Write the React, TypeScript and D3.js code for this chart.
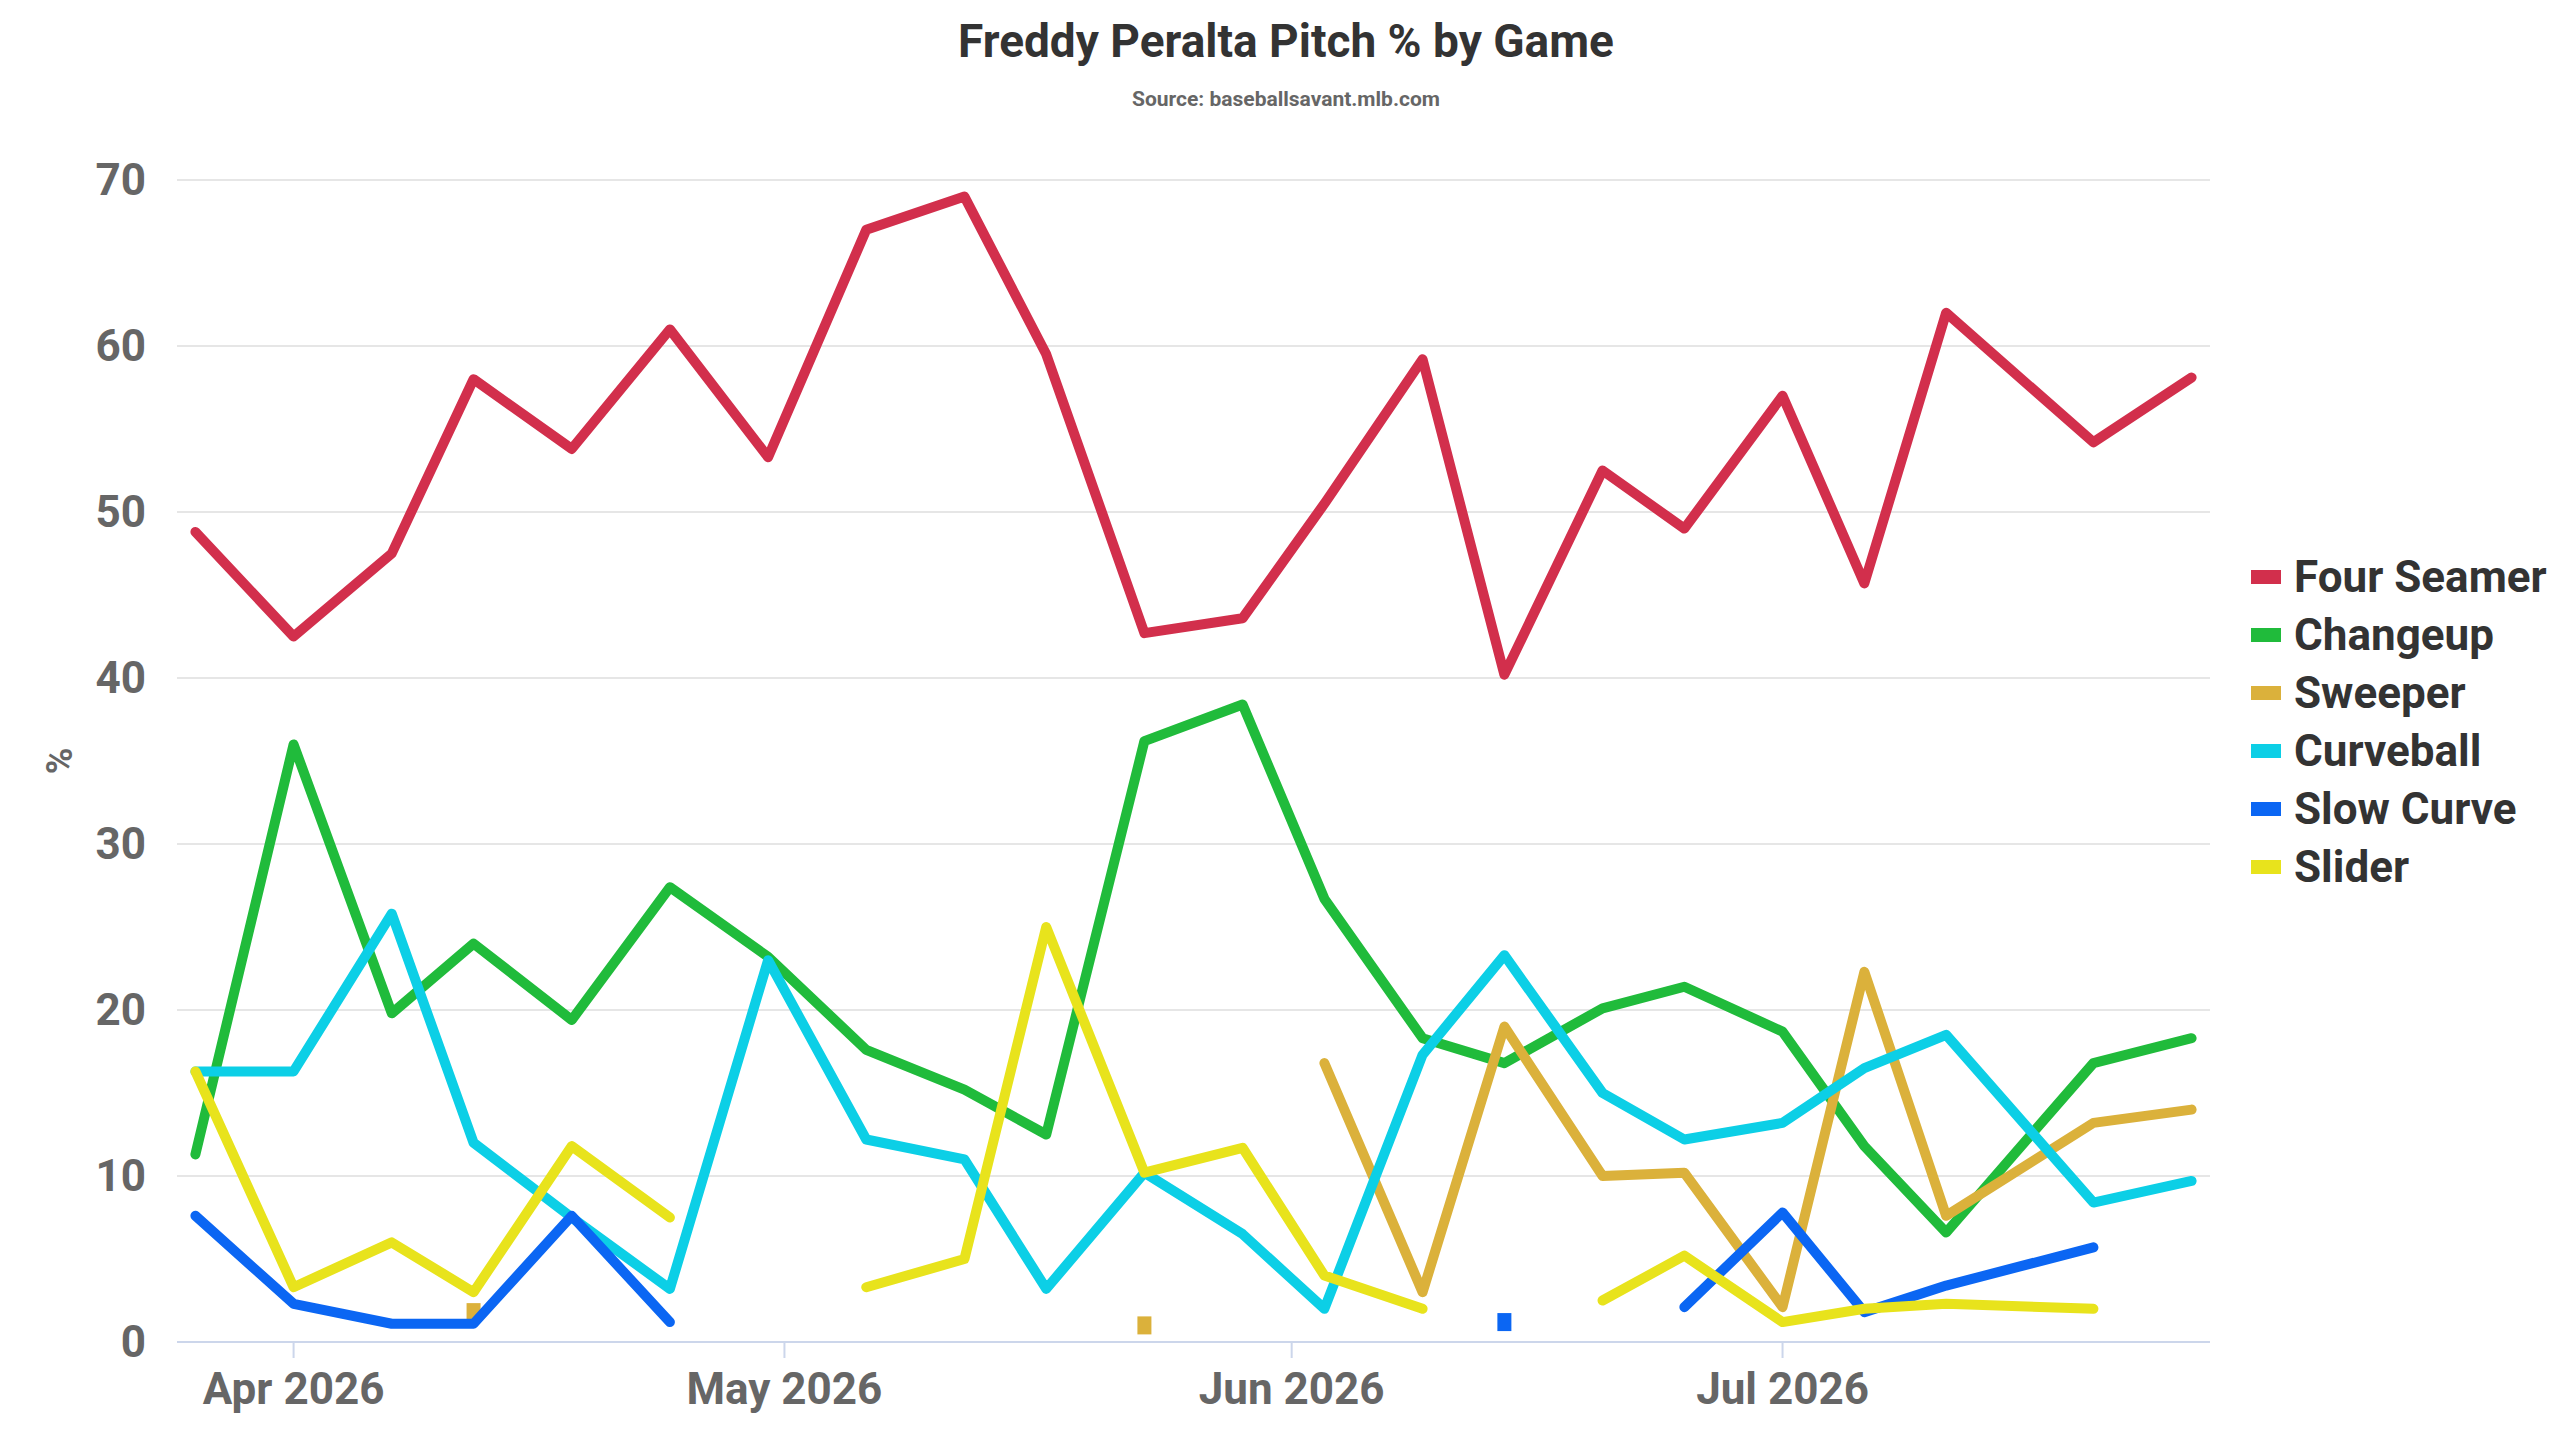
import * as d3 from 'd3'

// ── data ────────────────────────────────────────────────────────────────────
const GAMES = [
  '2026-03-26', '2026-04-01', '2026-04-07', '2026-04-12', '2026-04-18', '2026-04-24',
  '2026-04-30', '2026-05-06', '2026-05-12', '2026-05-17', '2026-05-23', '2026-05-29',
  '2026-06-03', '2026-06-09', '2026-06-14', '2026-06-20', '2026-06-25', '2026-07-01',
  '2026-07-06', '2026-07-11', '2026-07-20', '2026-07-26',
]
type V = number | null
const FOUR_SEAMER: V[] = [48.8, 42.5, 47.5, 58, 53.8, 61, 53.3, 67, 69, 59.5, 42.7, 43.6, 50.5, 59.2, 40.2, 52.5, 49, 57, 45.7, 62, 54.2, 58.1]
const CHANGEUP: V[] = [11.3, 36, 19.8, 24, 19.4, 27.4, 23.2, 17.6, 15.2, 12.5, 36.2, 38.4, 26.7, 18.3, 16.8, 20.1, 21.4, 18.7, 11.8, 6.6, 16.8, 18.3]
const SWEEPER: V[] = [null, null, null, 1.8, null, null, null, null, null, null, 1, null, 16.8, 3, 19, 10, 10.2, 2.1, 22.3, 7.6, 13.2, 14]
const CURVEBALL: V[] = [16.3, 16.3, 25.8, 12, 7.5, 3.2, 23, 12.2, 11, 3.2, 10.2, 6.5, 2, 17.3, 23.3, 15, 12.2, 13.2, 16.5, 18.5, 8.4, 9.7]
const SLOW_CURVE: V[] = [7.6, 2.3, 1.1, 1.1, 7.6, 1.2, null, null, null, null, null, null, null, null, 1.2, null, 2.1, 7.8, 1.8, 3.4, 5.7, null]
const SLIDER: V[] = [16.3, 3.3, 6, 3, 11.8, 7.5, null, 3.3, 5, 25, 10.2, 11.7, 4, 2, null, 2.5, 5.2, 1.2, 2, 2.3, 2.0, null]

const SERIES = [
  { name: 'Four Seamer', color: '#d22f4c', values: FOUR_SEAMER },
  { name: 'Changeup', color: '#20bb3b', values: CHANGEUP },
  { name: 'Sweeper', color: '#dbb13b', values: SWEEPER },
  { name: 'Curveball', color: '#0ccfe6', values: CURVEBALL },
  { name: 'Slow Curve', color: '#0b66f3', values: SLOW_CURVE },
  { name: 'Slider', color: '#e8e31c', values: SLIDER },
]
const Y_TICKS = [0, 10, 20, 30, 40, 50, 60, 70]
const X_TICKS = ['2026-04-01', '2026-05-01', '2026-06-01', '2026-07-01']

// ── layout ──────────────────────────────────────────────────────────────────
const W = 2560, H = 1440
const PL = 177, PR = 2210, PT = 180, PB = 1342
const FONT = '"Liberation Sans Narrow", "Roboto", sans-serif'
const CMUT = '#666666'

export default function App() {
  const x = d3.scaleTime()
    .domain([new Date('2026-03-24T21:00'), new Date('2026-07-27T03:00')])
    .range([PL, PR])
  const y = d3.scaleLinear().domain([0, 70]).range([PB, PT])
  const dates = GAMES.map(g => new Date(g + 'T00:00'))

  const line = d3.line<V>()
    .defined(v => v != null)
    .x((_, i) => x(dates[i]))
    .y(v => y(v as number))

  return (
    <svg width={W} height={H} style={{ position: 'absolute', left: 0, top: 0, background: '#fff' }} fontFamily={FONT}>
      <text x={1286} y={57} textAnchor="middle" fontSize={46} fontWeight="bold" fill="#333">Freddy Peralta Pitch % by Game</text>
      <text x={1286} y={106} textAnchor="middle" fontSize={21} fontWeight="bold" fill={CMUT}>Source: baseballsavant.mlb.com</text>

      {Y_TICKS.map(t => (
        <g key={t}>
          <line x1={PL} x2={PR} y1={y(t)} y2={y(t)} stroke={t === 0 ? '#ccd6eb' : '#e6e6e6'} strokeWidth={2} />
          <text x={146} y={y(t) + 15} textAnchor="end" fontSize={44} fontWeight="bold" fill={CMUT}>{t}</text>
        </g>
      ))}
      {X_TICKS.map(t => {
        const d = new Date(t + 'T00:00')
        return (
          <g key={t}>
            <line x1={x(d)} x2={x(d)} y1={PB} y2={PB + 16} stroke="#ccd6eb" strokeWidth={2} />
            <text x={x(d)} y={1404} textAnchor="middle" fontSize={44} fontWeight="bold" fill={CMUT}>{d3.timeFormat('%b %Y')(d)}</text>
          </g>
        )
      })}
      <text transform={`translate(72,${(PT + PB) / 2 + 0}) rotate(-90)`} textAnchor="middle" fontSize={36} fontWeight="bold" fill={CMUT}>%</text>

      {SERIES.map(s => (
        <g key={s.name}>
          <path d={line(s.values) ?? ''} fill="none" stroke={s.color} strokeWidth={10} strokeLinejoin="round" strokeLinecap="round" />
          {s.values.map((v, i) => {
            const isolated = v != null && s.values[i - 1] == null && s.values[i + 1] == null
            return isolated
              ? <rect key={i} x={x(dates[i]) - 7} y={y(v as number) - 9} width={14} height={18} fill={s.color} />
              : null
          })}
        </g>
      ))}

      {SERIES.map((s, i) => (
        <g key={s.name} transform={`translate(2251,${577 + i * 58})`}>
          <rect x={0} y={-7} width={30} height={14} fill={s.color} />
          <text x={43} y={15} fontSize={44} fontWeight="bold" fill="#333">{s.name}</text>
        </g>
      ))}
    </svg>
  )
}
